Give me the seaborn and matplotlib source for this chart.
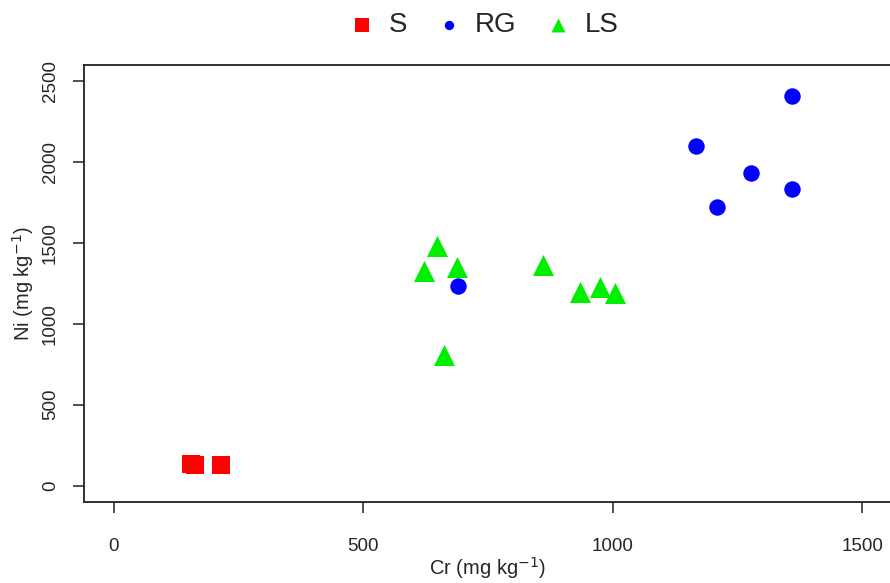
import matplotlib
matplotlib.use("Agg")
import matplotlib.pyplot as plt
import seaborn as sns
import pandas as pd

# Data
s_cr = [154, 162, 214]
s_ni = [134, 128, 124]

rg_cr = [689, 1167, 1277, 1209, 1360, 1360]
rg_ni = [1236, 2103, 1932, 1721, 2410, 1835]

ls_cr = [647, 622, 687, 661, 860, 934, 975, 1004]
ls_ni = [1483, 1327, 1354, 807, 1364, 1199, 1230, 1189]

groups = ["S", "RG", "LS"]
x_ticks = [0, 500, 1000, 1500]
y_ticks = [0, 500, 1000, 1500, 2000, 2500]

sns.set_theme(style="white")
plt.rcParams["font.family"] = ["Liberation Sans", "DejaVu Sans"]

fig = plt.figure(figsize=(8.9, 5.83), dpi=100)
ax = fig.add_axes([84 / 890, 81.3 / 583, 808 / 890, 436.4 / 583])

styles = {
    "S": dict(marker="s", color="#FF0000", s=175),
    "RG": dict(marker="o", color="#0000FF", s=140),
    "LS": dict(marker="^", color="#00EE00", s=230),
}
legend_sizes = {"S": 100, "RG": 45, "LS": 100}
data = {"S": (s_cr, s_ni), "RG": (rg_cr, rg_ni), "LS": (ls_cr, ls_ni)}

for g in groups:
    cr, ni = data[g]
    df = pd.DataFrame({"Cr": cr, "Ni": ni})
    sns.scatterplot(data=df, x="Cr", y="Ni", ax=ax, label=g,
                    linewidth=0, **styles[g])

ax.set_xlim(-60, 1560)
ax.set_ylim(-100, 2600)
ax.set_xticks(x_ticks)
ax.set_yticks(y_ticks)
ax.set_xticklabels([str(v) for v in x_ticks], fontsize=13.5)
ax.set_yticklabels([str(v) for v in y_ticks], fontsize=13.5, rotation=90,
                   va="center")
ax.tick_params(axis="both", direction="out", length=8, width=1.1,
               color="#222222", bottom=True, left=True)
ax.tick_params(axis="x", pad=18)
ax.tick_params(axis="y", pad=10)
for sp in ax.spines.values():
    sp.set_color("#222222")
    sp.set_linewidth(1.3)

ax.set_xlabel("Cr (mg kg$^{-1}$)", fontsize=14.5, labelpad=0)
ax.set_ylabel("Ni (mg kg$^{-1}$)", fontsize=14.5, labelpad=4)

sns.move_legend(ax, "center", bbox_to_anchor=(0.543, 1 - 25 / 583),
                bbox_transform=fig.transFigure, ncol=3, frameon=False,
                title=None, fontsize=20, handlelength=1.0,
                handletextpad=0.45, columnspacing=1.0, borderpad=0.2)
leg = ax.get_legend()
for h, g in zip(leg.legend_handles, groups):
    h.set_sizes([legend_sizes[g]])

fig.savefig("out.png", dpi=100)
